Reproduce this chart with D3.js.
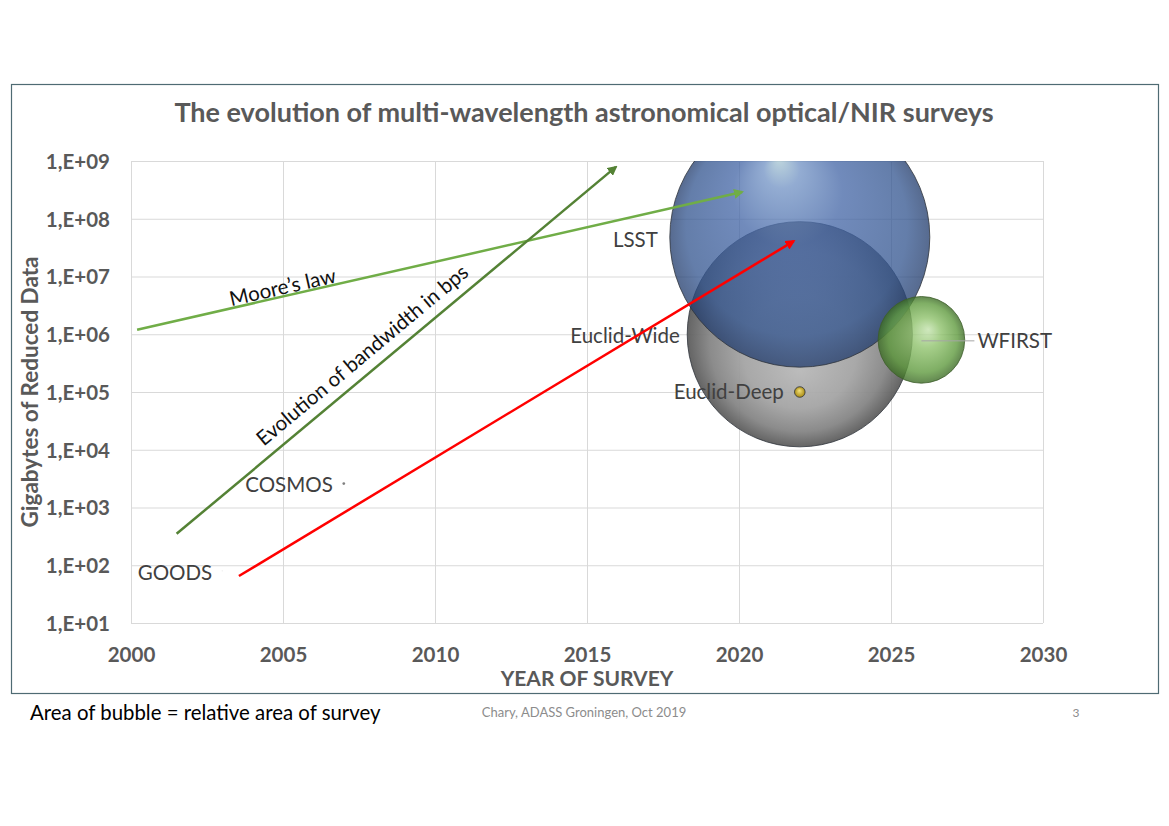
<!DOCTYPE html>
<html>
<head>
<meta charset="utf-8">
<script src="https://cdn.jsdelivr.net/npm/d3@7"></script>
<style>
  body { margin: 0; background: #fff; }
  text { font-family: Lato, "Open Sans", sans-serif; }
</style>
</head>
<body>
<script>
// surveys: year, gigabytes of reduced data, survey area (deg^2) -> bubble size
var surveys = ["GOODS", "COSMOS", "Euclid-Wide", "LSST", "Euclid-Deep", "WFIRST"];
var years   = [2003, 2007, 2022, 2022, 2022, 2026];
var gbytes  = [80, 2600, 1e6, 4.8e7, 1e5, 8e5];
var areas   = [0.1, 2, 13500, 18000, 30, 2000];

// trend arrows: [year, GB] start and end
var trendNames = ["Moore's law", "bandwidth", "surveys"];
var trendStart = [[2000.2, 1.2e6], [2001.5, 350], [2003.55, 65]];
var trendEnd   = [[2020.1, 2.9e8], [2015.95, 7.9e8], [2021.8, 4.1e7]];

var yTicks = [1e1, 1e2, 1e3, 1e4, 1e5, 1e6, 1e7, 1e8, 1e9];
var xTicks = [2000, 2005, 2010, 2015, 2020, 2025, 2030];

var width = 1169, height = 826;
var pL = 131, pR = 1043, pT = 161, pB = 623;

var svg = d3.select("body").append("svg")
  .attr("width", width)
  .attr("height", height);

var defs = svg.append("defs");

function bubbleGrad(id, fx, fy, stops) {
  var g = defs.append("radialGradient").attr("id", id)
    .attr("cx", "50%").attr("cy", "50%").attr("r", "50%")
    .attr("fx", fx).attr("fy", fy);
  stops.forEach(function(s) {
    g.append("stop").attr("offset", s[0]).attr("stop-color", s[1]);
  });
}
bubbleGrad("g-blue", "42%", "20%", [["0%", "#a9c8d2"], ["14%", "#7192c4"], ["42%", "#4466a6"], ["85%", "#33558f"], ["100%", "#223c6c"]]);
bubbleGrad("g-gray", "50%", "66%", [["0%", "#b8b8b8"], ["50%", "#a4a4a4"], ["80%", "#858585"], ["100%", "#5c5c5c"]]);
bubbleGrad("g-green", "58%", "38%", [["0%", "#c3e2ad"], ["35%", "#8fc26c"], ["80%", "#5f9a3e"], ["100%", "#3c6b25"]]);
bubbleGrad("g-gold", "45%", "35%", [["0%", "#f5e27a"], ["100%", "#a88a14"]]);

var bubbleFill = {"GOODS": "#e6e6e6", "COSMOS": "#7f7f7f", "Euclid-Wide": "url(#g-gray)",
  "LSST": "url(#g-blue)", "Euclid-Deep": "url(#g-gold)", "WFIRST": "url(#g-green)"};
var bubbleOpacity = {"GOODS": 1, "COSMOS": 1, "Euclid-Wide": 0.95,
  "LSST": 0.76, "Euclid-Deep": 1, "WFIRST": 0.8};

defs.append("clipPath").attr("id", "plot-clip")
  .append("rect").attr("x", pL).attr("y", pT)
  .attr("width", pR - pL).attr("height", pB - pT);

["arrow-light", "arrow-dark", "arrow-red"].forEach(function(id, i) {
  defs.append("marker").attr("id", id)
    .attr("viewBox", "0 0 10 10").attr("refX", 8).attr("refY", 5)
    .attr("markerWidth", 4).attr("markerHeight", 4)
    .attr("orient", "auto")
    .append("path").attr("d", "M0,0 L10,5 L0,10 z")
    .attr("fill", ["#70ad47", "#548235", "#ff0000"][i]);
});

// outer frame
svg.append("rect")
  .attr("x", 11.5).attr("y", 84.5)
  .attr("width", 1147).attr("height", 609)
  .attr("fill", "none").attr("stroke", "#4f6b73").attr("stroke-width", 1.2);

var x = d3.scaleLinear().domain([2000, 2030]).range([pL, pR]);
var y = d3.scaleLog().domain([10, 1e9]).range([pB, pT]);
var r = d3.scaleSqrt().domain([0, 18000]).range([0, 130]);

// grid + axes
var yAxis = svg.append("g").attr("transform", "translate(" + pL + ",0)")
  .call(d3.axisLeft(y).tickValues(yTicks)
    .tickSize(-(pR - pL)).tickPadding(21)
    .tickFormat(function(d) { return "1,E+" + d3.format("02d")(Math.round(Math.log10(d))); }));
var xAxis = svg.append("g").attr("transform", "translate(0," + pB + ")")
  .call(d3.axisBottom(x).tickValues(xTicks)
    .tickSize(-(pB - pT)).tickPadding(24)
    .tickFormat(d3.format("d")));

[yAxis, xAxis].forEach(function(a) {
  a.select(".domain").remove();
  a.selectAll("line").attr("stroke", "#d9d9d9").attr("stroke-width", 1);
  a.selectAll("text").attr("fill", "#595959")
    .style("font-size", "20.5px").style("font-weight", "bold");
});
yAxis.selectAll("text").attr("dy", "0.36em");

// bubbles
var plot = svg.append("g").attr("clip-path", "url(#plot-clip)");
plot.selectAll("circle")
  .data(surveys)
  .enter()
  .append("circle")
  .attr("cx", function(d, i) { return x(years[i]); })
  .attr("cy", function(d, i) { return y(gbytes[i]); })
  .attr("r", function(d, i) { return Math.max(r(areas[i]), 0.6); })
  .attr("fill", function(d) { return bubbleFill[d]; })
  .attr("fill-opacity", function(d) { return bubbleOpacity[d]; })
  .attr("stroke", function(d) { return d == "WFIRST" ? "#3d5e2a" : "#30343c"; })
  .attr("stroke-opacity", 0.8)
  .attr("stroke-width", function(d, i) { return r(areas[i]) > 3 ? 1 : 0; });

// data labels (offsets from the bubble centre, in px)
var labelDx = {"GOODS": -10, "COSMOS": -11, "Euclid-Wide": -120, "LSST": -142, "Euclid-Deep": -16, "WFIRST": 56};
var labelDy = {"GOODS": 2, "COSMOS": 1, "Euclid-Wide": 2, "LSST": 3, "Euclid-Deep": 0, "WFIRST": 1};

// WFIRST leader line
var wi = surveys.indexOf("WFIRST");
svg.append("line")
  .attr("x1", x(years[wi])).attr("y1", y(gbytes[wi]) + 1)
  .attr("x2", x(years[wi]) + labelDx.WFIRST - 3).attr("y2", y(gbytes[wi]) + 1)
  .attr("stroke", "#a6a6a6").attr("stroke-width", 1);

svg.append("g").selectAll("text")
  .data(surveys)
  .enter()
  .append("text")
  .attr("x", function(d, i) { return x(years[i]) + labelDx[d]; })
  .attr("y", function(d, i) { return y(gbytes[i]) + labelDy[d]; })
  .attr("dy", "0.35em")
  .attr("text-anchor", function(d) { return labelDx[d] > 0 ? "start" : "end"; })
  .attr("fill", "#404040")
  .style("font-size", "20.5px")
  .text(function(d) { return d; });

// trend arrows
var arrowColor = ["#70ad47", "#548235", "#ff0000"];
var arrowMarker = ["arrow-light", "arrow-dark", "arrow-red"];
svg.append("g").selectAll("line")
  .data(trendNames)
  .enter()
  .append("line")
  .attr("x1", function(d, i) { return x(trendStart[i][0]); })
  .attr("y1", function(d, i) { return y(trendStart[i][1]); })
  .attr("x2", function(d, i) { return x(trendEnd[i][0]); })
  .attr("y2", function(d, i) { return y(trendEnd[i][1]); })
  .attr("stroke", function(d, i) { return arrowColor[i]; })
  .attr("stroke-width", 2.5)
  .attr("marker-end", function(d, i) { return "url(#" + arrowMarker[i] + ")"; });

// text along arrows
function slopeLabel(i, txt, t, off, size) {
  var x1 = x(trendStart[i][0]), y1 = y(trendStart[i][1]);
  var x2 = x(trendEnd[i][0]), y2 = y(trendEnd[i][1]);
  var ang = Math.atan2(y2 - y1, x2 - x1) * 180 / Math.PI;
  var px = x1 + (x2 - x1) * t, py = y1 + (y2 - y1) * t;
  svg.append("text")
    .attr("transform", "translate(" + px + "," + py + ") rotate(" + ang + ")")
    .attr("y", off)
    .attr("text-anchor", "middle")
    .attr("fill", "#111")
    .style("font-size", size + "px")
    .text(txt);
}
slopeLabel(0, "Moore\u2019s law", 0.244, -2, 20.5);
slopeLabel(1, "Evolution of bandwidth in bps", 0.449, -11, 20.5);

// titles
svg.append("text")
  .attr("x", 584).attr("y", 122)
  .attr("text-anchor", "middle")
  .attr("fill", "#595959")
  .style("font-size", "27px").style("font-weight", "bold")
  .text("The evolution of multi-wavelength astronomical optical/NIR surveys");

svg.append("text")
  .attr("transform", "translate(38," + ((pT + pB) / 2) + ") rotate(-90)")
  .attr("text-anchor", "middle")
  .attr("fill", "#595959")
  .style("font-size", "22.5px").style("font-weight", "bold")
  .text("Gigabytes of Reduced Data");

svg.append("text")
  .attr("x", (pL + pR) / 2).attr("y", 686)
  .attr("text-anchor", "middle")
  .attr("fill", "#595959")
  .style("font-size", "21px").style("font-weight", "bold")
  .text("YEAR OF SURVEY");

// slide footer
svg.append("text")
  .attr("x", 30).attr("y", 720)
  .attr("fill", "#000")
  .style("font-size", "20.4px")
  .text("Area of bubble = relative area of survey");

svg.append("text")
  .attr("x", 584).attr("y", 717)
  .attr("text-anchor", "middle")
  .attr("fill", "#8c8c8c")
  .style("font-size", "13px")
  .text("Chary, ADASS Groningen, Oct 2019");

svg.append("text")
  .attr("x", 1076).attr("y", 717)
  .attr("text-anchor", "middle")
  .attr("fill", "#8c8c8c")
  .style("font-size", "12px")
  .text("3");
</script>
</body>
</html>
